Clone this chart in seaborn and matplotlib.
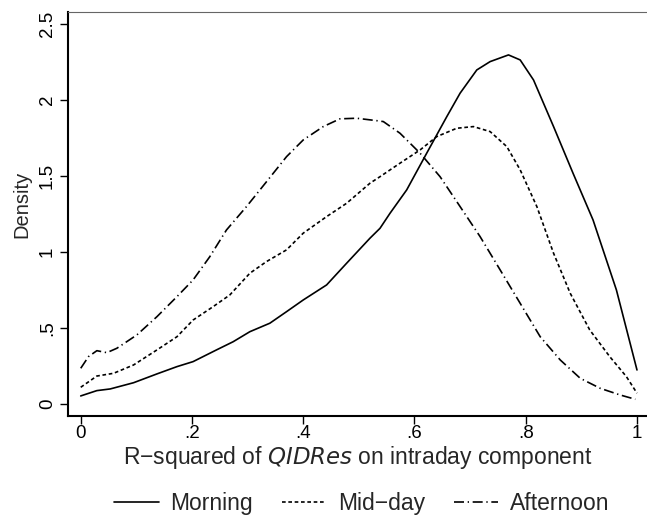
"""Kernel density of R-squared of QIDRes on the intraday component, by time of day."""

import matplotlib
matplotlib.use("Agg")
import matplotlib.pyplot as plt
import numpy as np
import pandas as pd
import seaborn as sns

# ---------------------------------------------------------------------------
# Data
# ---------------------------------------------------------------------------

morning_x = [0.0, 0.029, 0.053, 0.095, 0.137, 0.173, 0.202, 0.244, 0.274, 0.304,
             0.340, 0.370, 0.400, 0.442, 0.478, 0.520, 0.538, 0.556, 0.586, 0.622,
             0.658, 0.682, 0.712, 0.736, 0.769, 0.790, 0.814, 0.850, 0.885, 0.921,
             0.963, 1.0]
morning_y = [0.051, 0.086, 0.097, 0.138, 0.196, 0.244, 0.277, 0.354, 0.408, 0.474,
             0.530, 0.606, 0.683, 0.782, 0.925, 1.090, 1.155, 1.254, 1.408, 1.650,
             1.890, 2.045, 2.198, 2.253, 2.297, 2.264, 2.132, 1.825, 1.518, 1.210,
             0.749, 0.222]

midday_x = [0.0, 0.029, 0.059, 0.095, 0.137, 0.173, 0.202, 0.238, 0.268, 0.304,
            0.334, 0.370, 0.400, 0.442, 0.478, 0.520, 0.538, 0.574, 0.610, 0.640,
            0.676, 0.706, 0.736, 0.766, 0.790, 0.820, 0.850, 0.880, 0.915, 0.951,
            0.981, 1.0]
midday_y = [0.108, 0.182, 0.200, 0.255, 0.354, 0.441, 0.551, 0.639, 0.716, 0.859,
            0.936, 1.013, 1.123, 1.232, 1.320, 1.452, 1.495, 1.584, 1.671, 1.759,
            1.814, 1.825, 1.792, 1.693, 1.540, 1.298, 0.991, 0.727, 0.486, 0.310,
            0.178, 0.069]

afternoon_x = [0.0, 0.014, 0.029, 0.047, 0.065, 0.101, 0.137, 0.173, 0.202, 0.232,
               0.262, 0.298, 0.334, 0.370, 0.400, 0.436, 0.466, 0.496, 0.532, 0.544,
               0.574, 0.610, 0.646, 0.682, 0.718, 0.754, 0.790, 0.826, 0.862, 0.898,
               0.934, 0.970, 0.997]
afternoon_y = [0.233, 0.310, 0.349, 0.336, 0.365, 0.453, 0.573, 0.705, 0.815, 0.968,
               1.144, 1.298, 1.462, 1.627, 1.737, 1.825, 1.876, 1.880, 1.864, 1.858,
               1.781, 1.650, 1.495, 1.298, 1.100, 0.881, 0.661, 0.441, 0.288, 0.167,
               0.101, 0.057, 0.029]

periods = ["Morning", "Mid\u2212day", "Afternoon"]
x_ticks = [0, 0.2, 0.4, 0.6, 0.8, 1.0]
x_ticklabels = ["0", ".2", ".4", ".6", ".8", "1"]
y_ticks = [0, 0.5, 1.0, 1.5, 2.0, 2.5]
y_ticklabels = ["0", ".5", "1", "1.5", "2", "2.5"]

# ---------------------------------------------------------------------------
# Long-form frame for seaborn
# ---------------------------------------------------------------------------

frames = []
for name, xs, ys in zip(periods,
                        [morning_x, midday_x, afternoon_x],
                        [morning_y, midday_y, afternoon_y]):
    frames.append(pd.DataFrame({"r2": xs, "density": ys, "period": name}))
df = pd.concat(frames, ignore_index=True)

# ---------------------------------------------------------------------------
# Plot
# ---------------------------------------------------------------------------

sns.set_style("white")
plt.rcParams["font.family"] = ["Liberation Sans", "DejaVu Sans"]

fig = plt.figure(figsize=(6.47, 5.17), dpi=100)
ax = fig.add_axes([0.1056, 0.196, 0.8944, 0.780])

line_dashes = {
    "Morning": "",
    "Mid\u2212day": (2.2, 1.6),
    "Afternoon": (6.0, 2.2, 0.8, 2.2),
}
sns.lineplot(
    data=df, x="r2", y="density",
    style="period", style_order=periods, dashes=line_dashes,
    color="black", linewidth=1.2,
    estimator=None, sort=False, ax=ax,
)

ax.set_xlim(-0.0223, 1.018)
ax.set_ylim(-0.079, 2.577)
ax.set_xticks(x_ticks)
ax.set_xticklabels(x_ticklabels)
ax.set_yticks(y_ticks)
ax.set_yticklabels(y_ticklabels, rotation=90, va="center")
ax.tick_params(axis="both", direction="out", length=6, width=1.0,
               colors="black", labelsize=13.5, bottom=True, left=True)
ax.tick_params(axis="x", pad=1)
ax.tick_params(axis="y", pad=3)

ax.set_xlabel("R\u2212squared of $\\it{QIDRes}$ on intraday component",
              fontsize=16.5, labelpad=1)
ax.set_ylabel("Density", fontsize=14.5)
ax.yaxis.set_label_coords(-0.063, 0.525)

for side in ["left", "bottom"]:
    ax.spines[side].set_color("black")
    ax.spines[side].set_linewidth(1.5)
ax.spines["top"].set_color("#666666")
ax.spines["top"].set_linewidth(0.8)
ax.spines["right"].set_visible(False)
ax.grid(False)

handles, labels = ax.get_legend_handles_labels()
ax.legend(handles, labels, loc="center", bbox_to_anchor=(0.559, 0.026),
          bbox_transform=fig.transFigure, ncol=3, frameon=False,
          fontsize=16.5, handlelength=1.95, handletextpad=0.5, columnspacing=1.25,
          borderpad=0.1)

fig.savefig("out.png", dpi=100)
